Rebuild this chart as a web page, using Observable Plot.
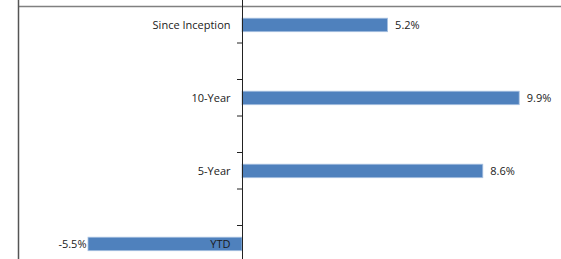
<!DOCTYPE html>
<html>
<head>
<meta charset="utf-8">
<script src="https://cdn.jsdelivr.net/npm/d3@7"></script>
<script src="https://cdn.jsdelivr.net/npm/@observablehq/plot@0.6"></script>
<style>
  html, body { margin: 0; padding: 0; background: #fff; }
  svg { display: block; }
</style>
</head>
<body>
<div id="chart"></div>
<script>
const categories = ["Since Inception", "10-Year", "5-Year", "YTD"];
const values = [5.2, 9.9, 8.6, -5.5];
const valueLabels = ["5.2%", "9.9%", "8.6%", "-5.5%"];
// category slots (blank slots between categories, as in the source chart)
const slotCount = 7;
const slotTicks = [1, 2, 3, 4, 5, 6];
const xDomain = [-8, 12];

const data = categories.map((c, i) => ({
  category: c, value: values[i], label: valueLabels[i], slot: i * 2
}));

const font = "'Open Sans', 'Liberation Sans', sans-serif";

const chart = Plot.plot({
  width: 561,
  height: 259,
  marginTop: 0, marginBottom: 0, marginLeft: 0, marginRight: 0,
  style: { fontFamily: font, fontSize: "11px", color: "#1a1a1a", background: "#fff" },
  x: { domain: xDomain, range: [18, 578], axis: null },
  y: { domain: [0, slotCount], range: [6, 261.5], axis: null },
  marks: [
    // frame lines
    Plot.ruleY([0], { x1: xDomain[0], x2: xDomain[1], stroke: "#808080", strokeWidth: 1.5 }),
    Plot.ruleX([xDomain[0]], { stroke: "#555", strokeWidth: 1.5 }),
    // bars
    Plot.rectX(data, {
      x1: 0, x2: "value",
      y1: "slot", y2: d => d.slot + 1,
      insetTop: 12.2, insetBottom: 10.8,
      fill: "#4F81BD", stroke: "#a9c2e2", strokeWidth: 0.8
    }),
    // zero axis with tick marks at slot boundaries
    Plot.ruleX([0], { stroke: "#222", strokeWidth: 1 }),
    Plot.ruleY(slotTicks, { x1: 0, x2: 0, insetLeft: -5, stroke: "#222", strokeWidth: 1 }),
    // category labels
    Plot.text(data, {
      x: 0, y: d => d.slot + 0.5, text: "category",
      textAnchor: "end", dx: -12, dy: 1, fill: "#1a1a1a"
    }),
    // value labels
    Plot.text(data.filter(d => d.value >= 0), {
      x: "value", y: d => d.slot + 0.5, text: "label",
      textAnchor: "start", dx: 7, dy: 1, fill: "#1a1a1a"
    }),
    Plot.text(data.filter(d => d.value < 0), {
      x: "value", y: d => d.slot + 0.5, text: "label",
      textAnchor: "end", dx: -2, dy: 1, fill: "#1a1a1a"
    })
  ]
});
document.getElementById("chart").appendChild(chart);
</script>
</body>
</html>
